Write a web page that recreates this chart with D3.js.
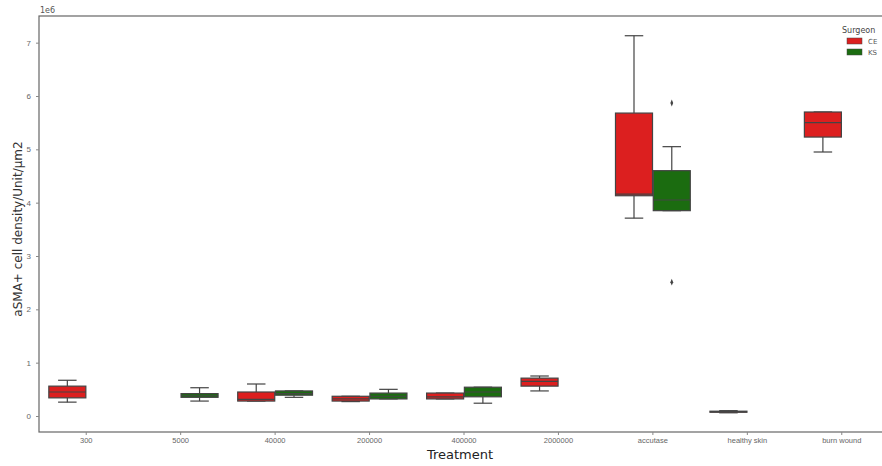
<!DOCTYPE html>
<html>
<head>
<meta charset="utf-8">
<script src="https://cdn.jsdelivr.net/npm/d3@7"></script>
<style>
  html, body { margin: 0; padding: 0; background: #fff; }
  svg { display: block; font-family: "DejaVu Sans", sans-serif; }
</style>
</head>
<body>
<svg id="chart" width="882" height="466"></svg>
<script>
// Treatment groups along the x axis
const treatments = ["300", "5000", "40000", "200000", "400000", "2000000", "accutase", "healthy skin", "burn wound"];
const surgeons = ["CE", "KS"];
const surgeonColors = ["#dc1f1f", "#1b6c10"];
const yTicks = [0, 1, 2, 3, 4, 5, 6, 7];

// Box summaries (units of 1e6): [treatment, whiskerLow, q1, median, q3, whiskerHigh]
const boxesCE = [
  ["300",          0.26, 0.34, 0.45, 0.56, 0.67],
  ["40000",        0.28, 0.28, 0.31, 0.45, 0.60],
  ["200000",       0.27, 0.28, 0.32, 0.37, 0.37],
  ["400000",       0.32, 0.32, 0.36, 0.43, 0.43],
  ["2000000",      0.47, 0.56, 0.65, 0.71, 0.75],
  ["accutase",     3.71, 4.13, 4.16, 5.68, 7.13],
  ["healthy skin", 0.06, 0.07, 0.08, 0.09, 0.10],
  ["burn wound",   4.95, 5.23, 5.50, 5.70, 5.70]
];
const boxesKS = [
  ["5000",     0.28, 0.35, 0.38, 0.42, 0.53],
  ["40000",    0.35, 0.39, 0.42, 0.47, 0.47],
  ["200000",   0.32, 0.32, 0.37, 0.43, 0.50],
  ["400000",   0.24, 0.36, 0.45, 0.54, 0.54],
  ["accutase", 3.85, 3.85, 4.05, 4.60, 5.05]
];
// Outlier points: [treatment, surgeon, value]
const fliers = [
  ["accutase", "KS", 5.87],
  ["accutase", "KS", 2.51]
];

const svg = d3.select("#chart");
const mLeft = 39, mTop = 16, mBottom = 432, mRight = 889;

const x = d3.scaleBand().domain(treatments).range([mLeft, mRight]).paddingInner(0).paddingOuter(0);
const hue = d3.scaleBand().domain(surgeons).range([0.1 * x.bandwidth(), 0.9 * x.bandwidth()]);
const color = d3.scaleOrdinal().domain(surgeons).range(surgeonColors);
const y = d3.scaleLinear().domain([-0.3, 7.5]).range([mBottom, mTop]);

// Frame
svg.append("rect")
  .attr("x", mLeft).attr("y", mTop)
  .attr("width", mRight - mLeft).attr("height", mBottom - mTop)
  .attr("fill", "none").attr("stroke", "#666").attr("stroke-width", 1.2);

// Y axis
const yAxis = svg.append("g").attr("transform", `translate(${mLeft},0)`)
  .call(d3.axisLeft(y).tickValues(yTicks).tickFormat(d3.format("d")).tickSize(3).tickPadding(5));
yAxis.select(".domain").remove();
yAxis.selectAll("line").attr("stroke", "#888");
yAxis.selectAll("text").attr("fill", "#666").style("font-size", "8px");

// X axis
const xAxis = svg.append("g").attr("transform", `translate(0,${mBottom})`)
  .call(d3.axisBottom(x).tickSize(3).tickPadding(3));
xAxis.select(".domain").remove();
xAxis.selectAll("line").attr("stroke", "#888");
xAxis.selectAll("text").attr("fill", "#666").style("font-size", "7.5px");

// Offset label
svg.append("text").attr("x", mLeft + 1).attr("y", mTop - 3)
  .attr("fill", "#555").style("font-size", "8px").text("1e6");

// Axis titles
svg.append("text")
  .attr("x", 460).attr("y", 459)
  .attr("text-anchor", "middle").attr("fill", "#222")
  .style("font-size", "13px").text("Treatment");
svg.append("text")
  .attr("transform", `translate(22,${(mTop + mBottom) / 2 + 5}) rotate(-90)`)
  .attr("text-anchor", "middle").attr("fill", "#333")
  .style("font-size", "12px").text("aSMA+ cell density/Unit/µm2");

// Boxes
function drawBoxes(rows, surgeon) {
  const w = hue.bandwidth() * 0.98;
  const g = svg.append("g");
  rows.forEach(([t, lo, q1, med, q3, hi]) => {
    const cx = x(t) + hue(surgeon) + hue.bandwidth() / 2;
    const bg = g.append("g");
    bg.append("line").attr("x1", cx).attr("x2", cx).attr("y1", y(q3)).attr("y2", y(hi))
      .attr("stroke", "#444").attr("stroke-width", 1.2);
    bg.append("line").attr("x1", cx).attr("x2", cx).attr("y1", y(q1)).attr("y2", y(lo))
      .attr("stroke", "#444").attr("stroke-width", 1.2);
    [lo, hi].forEach(v => bg.append("line")
      .attr("x1", cx - w / 4).attr("x2", cx + w / 4).attr("y1", y(v)).attr("y2", y(v))
      .attr("stroke", "#444").attr("stroke-width", 1.2));
    bg.append("rect").attr("x", cx - w / 2).attr("width", w)
      .attr("y", y(q3)).attr("height", Math.max(1, y(q1) - y(q3)))
      .attr("fill", color(surgeon)).attr("stroke", "#444").attr("stroke-width", 1.2);
    bg.append("line").attr("x1", cx - w / 2).attr("x2", cx + w / 2).attr("y1", y(med)).attr("y2", y(med))
      .attr("stroke", "#444").attr("stroke-width", 1.2);
  });
}
drawBoxes(boxesCE, "CE");
drawBoxes(boxesKS, "KS");

// Outliers as diamonds
const diamond = d3.symbol().type(d3.symbolDiamond).size(14);
svg.append("g").selectAll("path").data(fliers).join("path")
  .attr("d", diamond)
  .attr("transform", d => `translate(${x(d[0]) + hue(d[1]) + hue.bandwidth() / 2},${y(d[2])}) scale(0.7,1)`)
  .attr("fill", "#444");

// Legend
const lg = svg.append("g").attr("transform", "translate(842,0)");
lg.append("text").attr("x", 0).attr("y", 33).attr("fill", "#444")
  .style("font-size", "8px").text("Surgeon");
surgeons.forEach((s, i) => {
  lg.append("rect").attr("x", 5).attr("y", 38 + i * 11).attr("width", 15).attr("height", 6)
    .attr("fill", color(s)).attr("stroke", "#444").attr("stroke-width", 0.5);
  lg.append("text").attr("x", 26).attr("y", 44 + i * 11).attr("fill", "#555")
    .style("font-size", "7px").text(s);
});
</script>
</body>
</html>
